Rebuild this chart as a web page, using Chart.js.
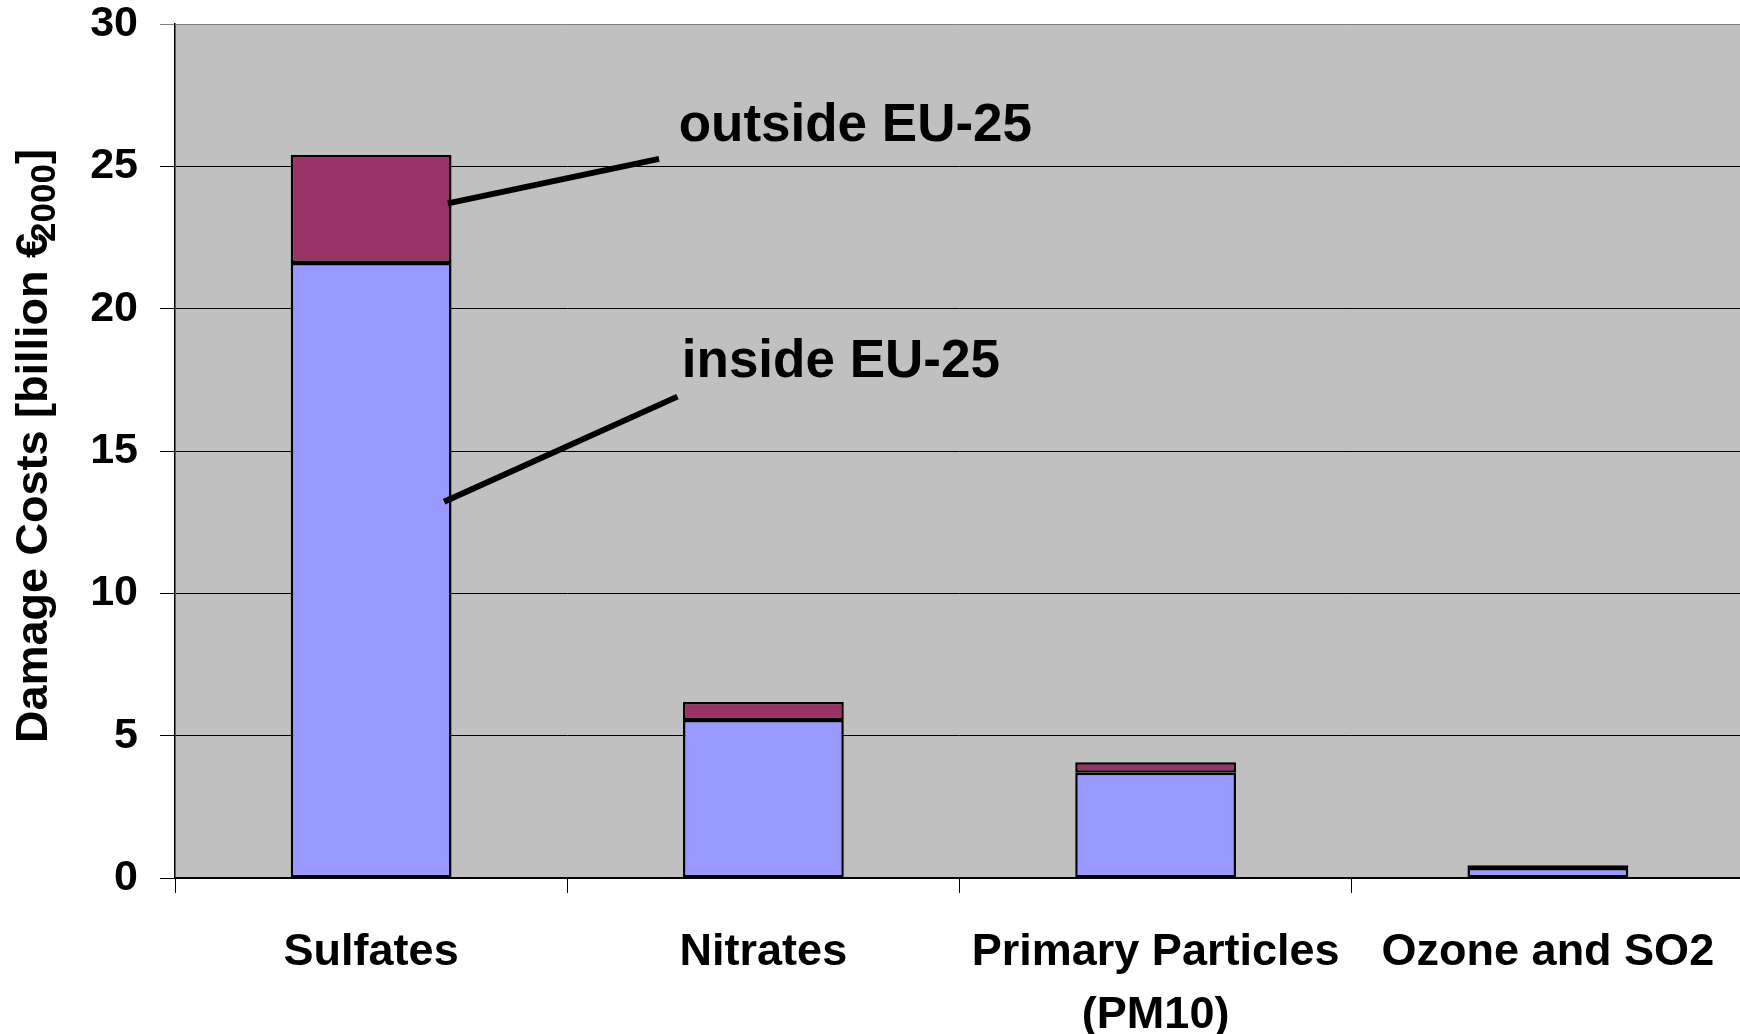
<!DOCTYPE html>
<html>
<head>
<meta charset="utf-8">
<script src="https://cdn.jsdelivr.net/npm/chart.js@4/dist/chart.umd.min.js"></script>
<style>
  html, body { margin: 0; padding: 0; background: #fff; overflow: hidden; }
  #wrap { width: 1744px; height: 1034px; }
</style>
</head>
<body>
<div id="wrap"><canvas id="c" width="1744" height="1034"></canvas></div>
<script>
// Pollutant categories (multi-line labels are arrays)
const categories = [['Sulfates'], ['Nitrates'], ['Primary Particles', '(PM10)'], ['Ozone and SO2']];
// Damage costs, billion €(2000)
const insideEU = [21.6, 5.55, 3.7, 0.35];
const outsideEU = [3.8, 0.63, 0.37, 0.1];
const seriesNames = ['inside EU-25', 'outside EU-25'];
const yMin = 0;
const yMax = 30;
const yStep = 5;
const yTitleMain = 'Damage Costs [billion €';
const yTitleSub = '2000';
const yTitleEnd = ']';

const FONT = '"Liberation Sans", Arial, Helvetica, sans-serif';

// Callouts naming the two stacked series; coordinates in (category index, value) units
const callouts = [
  { text: seriesNames[1], from: [0.1955, 23.70], to: [0.734, 25.26], at: [0.784, 25.90] },
  { text: seriesNames[0], from: [0.186, 13.22], to: [0.781, 16.91], at: [0.792, 17.61] }
];

// Grey plot-area fill
const plotBackground = {
  id: 'plotBackground',
  beforeDraw(chart) {
    const { ctx, chartArea: a } = chart;
    ctx.save();
    ctx.fillStyle = '#C0C0C0';
    ctx.fillRect(a.left, a.top, a.right - a.left, a.bottom - a.top);
    ctx.restore();
  }
};

// Leader lines and their series names
const calloutPlugin = {
  id: 'callouts',
  afterDatasetsDraw(chart) {
    const { ctx, scales: { x, y } } = chart;
    ctx.save();
    ctx.strokeStyle = '#000';
    ctx.lineWidth = 6;
    ctx.lineCap = 'butt';
    ctx.fillStyle = '#000';
    ctx.font = 'bold 53px ' + FONT;
    ctx.textAlign = 'left';
    ctx.textBaseline = 'alphabetic';
    callouts.forEach(c => {
      ctx.beginPath();
      ctx.moveTo(x.getPixelForValue(c.from[0]), y.getPixelForValue(c.from[1]));
      ctx.lineTo(x.getPixelForValue(c.to[0]), y.getPixelForValue(c.to[1]));
      ctx.stroke();
      ctx.fillText(c.text, x.getPixelForValue(c.at[0]), y.getPixelForValue(c.at[1]));
    });
    ctx.restore();
  }
};

// Vertical axis title with a subscripted year
const yTitlePlugin = {
  id: 'yTitle',
  afterDraw(chart) {
    const { ctx, scales: { y } } = chart;
    ctx.save();
    ctx.fillStyle = '#000';
    ctx.textBaseline = 'alphabetic';
    ctx.textAlign = 'left';
    const mainFont = 'bold 45px ' + FONT;
    const subFont = 'bold 35px ' + FONT;
    ctx.font = mainFont;
    const w1 = ctx.measureText(yTitleMain).width;
    ctx.font = subFont;
    const w2 = ctx.measureText(yTitleSub).width;
    const overlap = 9;
    ctx.translate(47, y.bottom - 135);
    ctx.rotate(-Math.PI / 2);
    ctx.font = mainFont;
    ctx.fillText(yTitleMain, 0, 0);
    ctx.font = subFont;
    ctx.fillText(yTitleSub, w1 - overlap, 8);
    ctx.font = mainFont;
    ctx.fillText(yTitleEnd, w1 - overlap + w2, 0);
    ctx.restore();
  }
};

new Chart(document.getElementById('c'), {
  type: 'bar',
  data: {
    labels: categories,
    datasets: [
      {
        label: seriesNames[0],
        data: insideEU,
        backgroundColor: '#9999FF',
        borderColor: '#000',
        borderWidth: 2.5,
        borderSkipped: false,
        barPercentage: 0.41,
        categoryPercentage: 1
      },
      {
        label: seriesNames[1],
        data: outsideEU,
        backgroundColor: '#993366',
        borderColor: '#000',
        borderWidth: 2.5,
        borderSkipped: false,
        barPercentage: 0.41,
        categoryPercentage: 1
      }
    ]
  },
  options: {
    responsive: false,
    animation: false,
    layout: { padding: { top: 24, right: 0, left: 0, bottom: 0 } },
    plugins: {
      legend: { display: false },
      tooltip: { enabled: false },
      title: { display: false }
    },
    scales: {
      x: {
        stacked: true,
        offset: true,
        grid: {
          offset: true,
          drawOnChartArea: false,
          drawTicks: true,
          tickLength: 15,
          color: '#000',
          lineWidth: 1
        },
        border: { color: '#000', width: 1.5 },
        ticks: {
          color: '#000',
          font: { family: FONT, size: 45, weight: 'bold', lineHeight: 1.38 },
          maxRotation: 0,
          autoSkip: false,
          padding: 29
        },
        afterFit(scale) {
          scale.height = 156;
          scale.paddingLeft = 0;
          scale.paddingRight = 0;
        }
      },
      y: {
        stacked: true,
        min: yMin,
        max: yMax,
        ticks: {
          stepSize: yStep,
          color: '#000',
          font: { family: FONT, size: 43, weight: 'bold', lineHeight: 1 },
          padding: 22
        },
        grid: {
          color: ctx => (ctx.tick && ctx.tick.value === yMax ? '#808080' : '#000'),
          lineWidth: 1,
          tickLength: 15,
          drawTicks: true
        },
        border: { color: '#000', width: 1.5 },
        afterFit(scale) {
          scale.width = 175;
          scale.paddingTop = 0;
          scale.paddingBottom = 0;
        }
      }
    }
  },
  plugins: [plotBackground, calloutPlugin, yTitlePlugin]
});
</script>
</body>
</html>
